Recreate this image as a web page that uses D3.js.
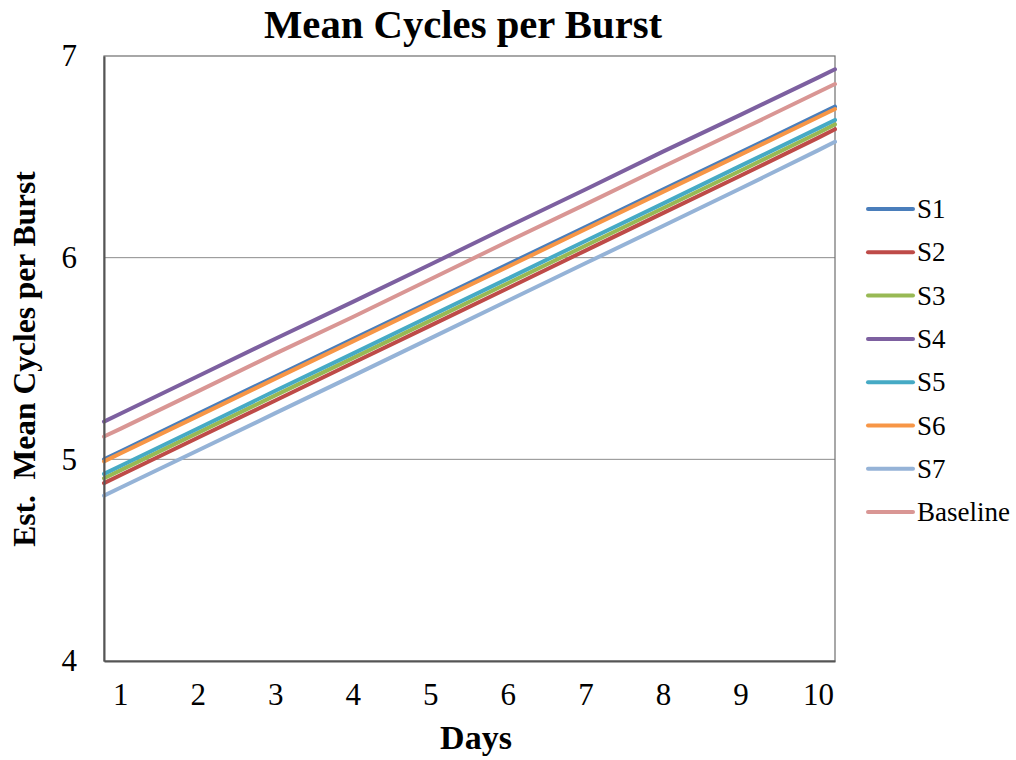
<!DOCTYPE html>
<html>
<head>
<meta charset="utf-8">
<script src="https://cdn.jsdelivr.net/npm/d3@7"></script>
<style>
  html, body { margin: 0; padding: 0; background: #fff; }
  svg { display: block; }
  svg text { font-family: "Liberation Serif", "Times New Roman", serif; }
</style>
</head>
<body>
<svg id="chart" width="1016" height="760"></svg>
<script>
// Sample positions along the day axis (edges of the plot plus each day)
const days = [0.79, 1, 2, 3, 4, 5, 6, 7, 8, 9, 10, 10.22];
const dayTicks = [1, 2, 3, 4, 5, 6, 7, 8, 9, 10];
const yTicks = [4, 5, 6, 7];

const seriesNames = ["S1", "S2", "S3", "S4", "S5", "S6", "S7", "Baseline"];
const seriesColors = ["#4a7ebb", "#be4b48", "#98b954", "#7d60a0", "#46aac5", "#f79646", "#95b3d7", "#d99694"];

const s1 = [5.000, 5.039, 5.226, 5.411, 5.596, 5.781, 5.967, 6.152, 6.338, 6.522, 6.708, 6.749];
const s2 = [4.882, 4.921, 5.107, 5.292, 5.478, 5.663, 5.848, 6.035, 6.221, 6.406, 6.594, 6.637];
const s3 = [4.906, 4.945, 5.131, 5.317, 5.502, 5.688, 5.873, 6.059, 6.245, 6.431, 6.618, 6.661];
const s4 = [5.187, 5.226, 5.412, 5.598, 5.781, 5.966, 6.153, 6.338, 6.526, 6.708, 6.893, 6.934];
const s5 = [4.928, 4.967, 5.153, 5.340, 5.524, 5.711, 5.896, 6.083, 6.268, 6.455, 6.641, 6.683];
const s6 = [4.990, 5.029, 5.214, 5.400, 5.585, 5.771, 5.955, 6.141, 6.326, 6.511, 6.696, 6.737];
const s7 = [4.820, 4.859, 5.044, 5.229, 5.414, 5.600, 5.786, 5.972, 6.157, 6.343, 6.532, 6.575];
const baseline = [5.113, 5.151, 5.337, 5.524, 5.706, 5.893, 6.080, 6.264, 6.451, 6.634, 6.820, 6.861];

const seriesValues = [s1, s2, s3, s4, s5, s6, s7, baseline];

const serif = "Liberation Serif, Times New Roman, serif";
const svg = d3.select("#chart");
const plot = { left: 104, top: 56, right: 835, bottom: 661 };

const x = d3.scaleLinear().domain([0.79, 10.22]).range([plot.left, plot.right]);
const y = d3.scaleLinear().domain([4, 7]).range([plot.bottom, plot.top]);

// Horizontal gridlines
svg.append("g")
  .selectAll("line")
  .data(yTicks.filter(t => t > 4 && t < 7))
  .join("line")
  .attr("x1", plot.left).attr("x2", plot.right)
  .attr("y1", d => y(d)).attr("y2", d => y(d))
  .attr("stroke", "#8c8c8c").attr("stroke-width", 1);

// Plot frame
svg.append("rect")
  .attr("x", plot.left).attr("y", plot.top)
  .attr("width", plot.right - plot.left).attr("height", plot.bottom - plot.top)
  .attr("fill", "none").attr("stroke", "#6e6e6e").attr("stroke-width", 1.2);

// Series lines
const line = d3.line().x((d, i) => x(days[i])).y(d => y(d));
svg.append("g")
  .selectAll("path")
  .data(seriesValues)
  .join("path")
  .attr("d", d => line(d))
  .attr("fill", "none")
  .attr("stroke", (d, i) => seriesColors[i])
  .attr("stroke-width", 4)
  .attr("stroke-linejoin", "round")
  .attr("stroke-linecap", "round");

// Y axis
const yAxis = svg.append("g")
  .attr("transform", `translate(${plot.left},0)`)
  .call(d3.axisLeft(y).tickValues(yTicks).tickFormat(d3.format("d")).tickSize(0).tickPadding(27));
yAxis.attr("font-family", serif);
yAxis.select(".domain").attr("stroke", "#555").attr("stroke-width", 2);
yAxis.selectAll("text")
  .attr("font-family", serif)
  .attr("font-size", 31).attr("fill", "#000");

// X axis
const xAxis = svg.append("g")
  .attr("transform", `translate(0,${plot.bottom})`)
  .call(d3.axisBottom(x).tickValues(dayTicks).tickFormat(d3.format("d")).tickSize(0).tickPadding(22));
xAxis.attr("font-family", serif);
xAxis.select(".domain").attr("stroke", "#555").attr("stroke-width", 2);
xAxis.selectAll("text")
  .attr("font-family", serif)
  .attr("font-size", 31).attr("fill", "#000");

// Title
svg.append("text")
  .attr("x", 463).attr("y", 38)
  .attr("text-anchor", "middle")
  .attr("font-family", serif)
  .attr("font-size", 40.7).attr("font-weight", "bold")
  .text("Mean Cycles per Burst");

// Axis titles
svg.append("text")
  .attr("x", 476).attr("y", 749)
  .attr("text-anchor", "middle")
  .attr("font-family", serif)
  .attr("font-size", 34).attr("font-weight", "bold")
  .text("Days");

svg.append("text")
  .attr("transform", "translate(35,359) rotate(-90)")
  .attr("text-anchor", "middle")
  .attr("font-family", serif)
  .attr("font-size", 31.5).attr("font-weight", "bold")
  .style("white-space", "pre")
  .text("Est.  Mean Cycles per Burst");

// Legend
const legend = svg.append("g");
const rows = legend.selectAll("g")
  .data(seriesNames)
  .join("g")
  .attr("transform", (d, i) => `translate(868,${209 + i * 43.3})`);
rows.append("line")
  .attr("x1", 0).attr("x2", 45).attr("y1", 0).attr("y2", 0)
  .attr("stroke", (d, i) => seriesColors[i])
  .attr("stroke-width", 4).attr("stroke-linecap", "round");
rows.append("text")
  .attr("x", 49).attr("y", 9)
  .attr("font-family", serif)
  .attr("font-size", 27)
  .text(d => d);
</script>
</body>
</html>
